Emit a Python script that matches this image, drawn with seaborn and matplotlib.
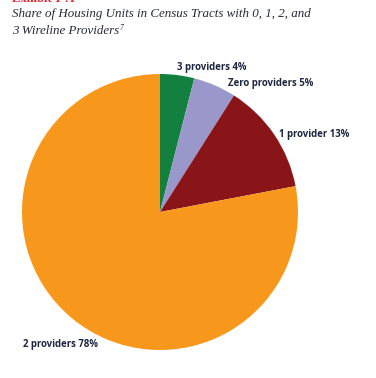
import seaborn as sns
import matplotlib.pyplot as plt

# data
categories = ['3 providers', 'Zero providers', '1 provider', '2 providers']
shares = [4, 5, 13, 78]
colors = ['#13803f', '#9a98cb', '#8a1519', '#f7981d']
# label anchor points (data coords of the unit pie)
label_x = [0.377, 0.80, 1.12, -0.72]
label_y = [1.05, 0.93, 0.565, -0.96]

sns.set_style("white")
plt.rcParams['font.family'] = ['Open Sans', 'DejaVu Sans']

fig = plt.figure(figsize=(3.76, 3.78), dpi=100)
ax = fig.add_axes([22 / 376, 28 / 378, 276 / 376, 276 / 378])

ax.pie(shares, colors=colors, startangle=90, counterclock=False,
       radius=1, wedgeprops=dict(linewidth=0))
ax.set_xlim(-1, 1)
ax.set_ylim(-1, 1)
ax.set_aspect('equal')
ax.axis('off')

for name, val, x, y in zip(categories, shares, label_x, label_y):
    ax.text(x, y, f'{name} {val}%', ha='center', va='center',
            fontsize=6.9, fontweight='bold', color='#1d2540', clip_on=False)

# title (red exhibit tag is cut off at the top edge in the original)
fig.text(12 / 376, 1 - 1.6 / 378, 'Exhibit 1-A', color='#e0262c', fontsize=9,
         fontweight='bold', family='Liberation Serif', va='baseline')
title_kw = dict(fontsize=9.4, style='italic', family='Liberation Serif',
                color='#262a3c', va='center')
fig.text(12 / 376, 1 - 14 / 378,
         'Share of Housing Units in Census Tracts with 0, 1, 2, and', **title_kw)
t2 = fig.text(12 / 376, 1 - 31 / 378, '3 Wireline Providers', **title_kw)
fig.canvas.draw()
bb = t2.get_window_extent()
fig.text(bb.x1 / 376 + 0.002, 1 - 28 / 378, '7', fontsize=5.5, style='italic',
         family='Liberation Serif', color='#262a3c', va='center')

fig.savefig('out.png', dpi=100)
